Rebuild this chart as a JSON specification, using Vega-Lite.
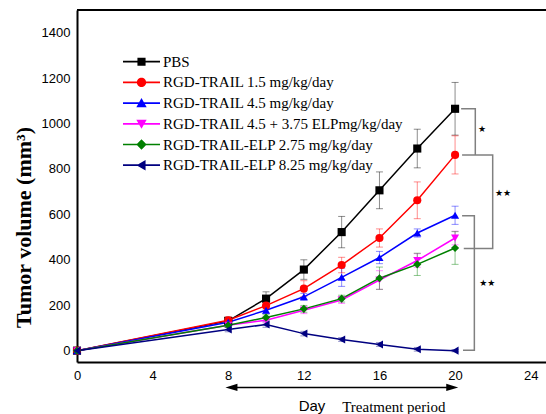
{
  "$schema": "https://vega.github.io/schema/vega-lite/v6.json",
  "width": 469,
  "height": 352,
  "autosize": {"type": "none"},
  "padding": {"left": 77, "top": 10, "right": 0, "bottom": 52},
  "background": "white",
  "config": {"view": {"stroke": null}},
  "datasets": {
    "d": [
      {"series": "PBS", "day": 0, "volume": 0, "lo": 0, "hi": 0},
      {"series": "PBS", "day": 8, "volume": 131, "lo": 116, "hi": 146},
      {"series": "PBS", "day": 10, "volume": 229, "lo": 199, "hi": 259},
      {"series": "PBS", "day": 12, "volume": 357, "lo": 314, "hi": 400},
      {"series": "PBS", "day": 14, "volume": 522, "lo": 453, "hi": 591},
      {"series": "PBS", "day": 16, "volume": 706, "lo": 625, "hi": 787},
      {"series": "PBS", "day": 18, "volume": 890, "lo": 805, "hi": 975},
      {"series": "PBS", "day": 20, "volume": 1065, "lo": 949, "hi": 1181},
      {"series": "RGD-TRAIL 1.5 mg/kg/day", "day": 0, "volume": 0, "lo": 0, "hi": 0},
      {"series": "RGD-TRAIL 1.5 mg/kg/day", "day": 8, "volume": 134, "lo": 119, "hi": 149},
      {"series": "RGD-TRAIL 1.5 mg/kg/day", "day": 10, "volume": 198, "lo": 183, "hi": 213},
      {"series": "RGD-TRAIL 1.5 mg/kg/day", "day": 12, "volume": 273, "lo": 238, "hi": 308},
      {"series": "RGD-TRAIL 1.5 mg/kg/day", "day": 14, "volume": 377, "lo": 343, "hi": 411},
      {"series": "RGD-TRAIL 1.5 mg/kg/day", "day": 16, "volume": 496, "lo": 456, "hi": 536},
      {"series": "RGD-TRAIL 1.5 mg/kg/day", "day": 18, "volume": 662, "lo": 581, "hi": 743},
      {"series": "RGD-TRAIL 1.5 mg/kg/day", "day": 20, "volume": 862, "lo": 778, "hi": 946},
      {"series": "RGD-TRAIL 4.5 mg/kg/day", "day": 0, "volume": 0, "lo": 0, "hi": 0},
      {"series": "RGD-TRAIL 4.5 mg/kg/day", "day": 8, "volume": 125, "lo": 113, "hi": 137},
      {"series": "RGD-TRAIL 4.5 mg/kg/day", "day": 10, "volume": 178, "lo": 163, "hi": 193},
      {"series": "RGD-TRAIL 4.5 mg/kg/day", "day": 12, "volume": 237, "lo": 222, "hi": 252},
      {"series": "RGD-TRAIL 4.5 mg/kg/day", "day": 14, "volume": 323, "lo": 283, "hi": 363},
      {"series": "RGD-TRAIL 4.5 mg/kg/day", "day": 16, "volume": 410, "lo": 383, "hi": 437},
      {"series": "RGD-TRAIL 4.5 mg/kg/day", "day": 18, "volume": 518, "lo": 500, "hi": 536},
      {"series": "RGD-TRAIL 4.5 mg/kg/day", "day": 20, "volume": 596, "lo": 556, "hi": 636},
      {"series": "RGD-TRAIL 4.5 + 3.75 ELPmg/kg/day", "day": 0, "volume": 0, "lo": 0, "hi": 0},
      {"series": "RGD-TRAIL 4.5 + 3.75 ELPmg/kg/day", "day": 8, "volume": 112, "lo": 102, "hi": 122},
      {"series": "RGD-TRAIL 4.5 + 3.75 ELPmg/kg/day", "day": 10, "volume": 134, "lo": 122, "hi": 146},
      {"series": "RGD-TRAIL 4.5 + 3.75 ELPmg/kg/day", "day": 12, "volume": 178, "lo": 163, "hi": 193},
      {"series": "RGD-TRAIL 4.5 + 3.75 ELPmg/kg/day", "day": 14, "volume": 223, "lo": 208, "hi": 238},
      {"series": "RGD-TRAIL 4.5 + 3.75 ELPmg/kg/day", "day": 16, "volume": 311, "lo": 270, "hi": 352},
      {"series": "RGD-TRAIL 4.5 + 3.75 ELPmg/kg/day", "day": 18, "volume": 397, "lo": 367, "hi": 427},
      {"series": "RGD-TRAIL 4.5 + 3.75 ELPmg/kg/day", "day": 20, "volume": 496, "lo": 466, "hi": 526},
      {"series": "RGD-TRAIL-ELP 2.75 mg/kg/day", "day": 0, "volume": 0, "lo": 0, "hi": 0},
      {"series": "RGD-TRAIL-ELP 2.75 mg/kg/day", "day": 8, "volume": 112, "lo": 102, "hi": 122},
      {"series": "RGD-TRAIL-ELP 2.75 mg/kg/day", "day": 10, "volume": 146, "lo": 134, "hi": 158},
      {"series": "RGD-TRAIL-ELP 2.75 mg/kg/day", "day": 12, "volume": 184, "lo": 169, "hi": 199},
      {"series": "RGD-TRAIL-ELP 2.75 mg/kg/day", "day": 14, "volume": 229, "lo": 214, "hi": 244},
      {"series": "RGD-TRAIL-ELP 2.75 mg/kg/day", "day": 16, "volume": 319, "lo": 270, "hi": 368},
      {"series": "RGD-TRAIL-ELP 2.75 mg/kg/day", "day": 18, "volume": 380, "lo": 331, "hi": 429},
      {"series": "RGD-TRAIL-ELP 2.75 mg/kg/day", "day": 20, "volume": 452, "lo": 380, "hi": 524},
      {"series": "RGD-TRAIL-ELP 8.25 mg/kg/day", "day": 0, "volume": 0, "lo": 0, "hi": 0},
      {"series": "RGD-TRAIL-ELP 8.25 mg/kg/day", "day": 8, "volume": 93, "lo": 83, "hi": 103},
      {"series": "RGD-TRAIL-ELP 8.25 mg/kg/day", "day": 10, "volume": 115, "lo": 103, "hi": 127},
      {"series": "RGD-TRAIL-ELP 8.25 mg/kg/day", "day": 12, "volume": 75, "lo": 65, "hi": 85},
      {"series": "RGD-TRAIL-ELP 8.25 mg/kg/day", "day": 14, "volume": 49, "lo": 41, "hi": 57},
      {"series": "RGD-TRAIL-ELP 8.25 mg/kg/day", "day": 16, "volume": 27, "lo": 19, "hi": 35},
      {"series": "RGD-TRAIL-ELP 8.25 mg/kg/day", "day": 18, "volume": 6, "lo": -2, "hi": 14},
      {"series": "RGD-TRAIL-ELP 8.25 mg/kg/day", "day": 20, "volume": 0, "lo": -5, "hi": 5}
    ],
    "br": [
      {"b": 1, "o": 1, "day": 20.32, "volume": 1065},
      {"b": 1, "o": 2, "day": 21.07, "volume": 1065},
      {"b": 1, "o": 3, "day": 21.07, "volume": 862},
      {"b": 2, "o": 1, "day": 20.37, "volume": 862},
      {"b": 2, "o": 2, "day": 21.99, "volume": 862},
      {"b": 2, "o": 3, "day": 21.99, "volume": 450},
      {"b": 2, "o": 4, "day": 20.46, "volume": 450},
      {"b": 3, "o": 1, "day": 20.37, "volume": 594},
      {"b": 3, "o": 2, "day": 21.02, "volume": 594},
      {"b": 3, "o": 3, "day": 21.02, "volume": 2},
      {"b": 3, "o": 4, "day": 20.42, "volume": 2}
    ],
    "stars": [
      {"day": 21.43, "volume": 974, "label": "★"},
      {"day": 22.54, "volume": 693, "label": "★★"},
      {"day": 21.7, "volume": 296, "label": "★★"}
    ]
  },
  "layer": [
    {
      "data": {"name": "d"},
      "transform": [{"filter": "datum.day > 0"}],
      "mark": {"type": "rule", "strokeWidth": 1, "strokeOpacity": 0.45},
      "encoding": {
        "x": {
          "field": "day", "type": "quantitative",
          "scale": {"domain": [0, 24.81], "nice": false, "zero": false},
          "axis": {
            "values": [0, 2, 4, 6, 8, 10, 12, 14, 16, 18, 20, 22, 24],
            "labelExpr": "datum.value % 4 === 0 ? datum.label : ''",
            "tickSize": 0, "labelPadding": 7, "labelFlush": false, "labelOverlap": false,
            "labelFont": "Liberation Sans", "labelFontSize": 13, "labelColor": "black",
            "domainColor": "black", "domainWidth": 2, "tickColor": "black", "tickWidth": 1.5,
            "grid": false,
            "title": "Day", "titleFont": "Liberation Sans", "titleFontSize": 15, "titleFontWeight": "normal",
            "titleColor": "black", "titleY": 48, "titleBaseline": "alphabetic",
            "encode": {"ticks": {"update": {"y2": {"signal": "datum.value % 4 === 0 ? -8 : -5"}}}}
          }
        },
        "y": {
          "field": "lo", "type": "quantitative",
          "scale": {"domain": [-50, 1500], "nice": false, "zero": false},
          "axis": {
            "values": [0, 100, 200, 300, 400, 500, 600, 700, 800, 900, 1000, 1100, 1200, 1300, 1400],
            "format": "d",
            "labelExpr": "datum.value % 200 === 0 ? datum.label : ''",
            "tickSize": 0, "labelPadding": 7, "labelOverlap": false,
            "labelFont": "Liberation Sans", "labelFontSize": 13, "labelColor": "black",
            "domainColor": "black", "domainWidth": 2, "tickColor": "black", "tickWidth": 1.5,
            "grid": false,
            "title": "Tumor volume (mm³)", "titleFont": "Liberation Serif", "titleFontSize": 22,
            "titleFontWeight": "bold", "titleColor": "black", "titleAngle": -90,
            "titleX": -54, "titleY": 217, "titleBaseline": "middle", "titleAlign": "center",
            "encode": {"ticks": {"update": {"x2": {"signal": "datum.value % 200 === 0 ? 5 : 3"}}}}
          }
        },
        "y2": {"field": "hi"},
        "stroke": {
          "field": "series", "type": "nominal",
          "scale": {
            "domain": ["PBS", "RGD-TRAIL 1.5 mg/kg/day", "RGD-TRAIL 4.5 mg/kg/day", "RGD-TRAIL 4.5 + 3.75 ELPmg/kg/day", "RGD-TRAIL-ELP 2.75 mg/kg/day", "RGD-TRAIL-ELP 8.25 mg/kg/day"],
            "range": ["#000000", "#ff0000", "#0000ff", "#ff00ff", "#008000", "#000080"]
          }
        }
      }
    },
    {
      "data": {"name": "d"},
      "transform": [{"filter": "datum.day > 0"}],
      "mark": {"type": "rule", "strokeWidth": 1, "strokeOpacity": 0.45, "xOffset": -3.5, "x2Offset": 3.5},
      "encoding": {
        "x": {"field": "day", "type": "quantitative"},
        "x2": {"field": "day"},
        "y": {"field": "lo", "type": "quantitative"},
        "stroke": {"field": "series", "type": "nominal"}
      }
    },
    {
      "data": {"name": "d"},
      "transform": [{"filter": "datum.day > 0"}],
      "mark": {"type": "rule", "strokeWidth": 1, "strokeOpacity": 0.45, "xOffset": -3.5, "x2Offset": 3.5},
      "encoding": {
        "x": {"field": "day", "type": "quantitative"},
        "x2": {"field": "day"},
        "y": {"field": "hi", "type": "quantitative"},
        "stroke": {"field": "series", "type": "nominal"}
      }
    },
    {
      "data": {"name": "d"},
      "mark": {"type": "line", "strokeWidth": 1.5},
      "encoding": {
        "x": {"field": "day", "type": "quantitative"},
        "y": {"field": "volume", "type": "quantitative"},
        "stroke": {"field": "series", "type": "nominal"}
      }
    },
    {
      "data": {"name": "d"},
      "transform": [{"filter": "datum.series === 'PBS'"}],
      "mark": {"type": "point", "shape": "square", "filled": true, "opacity": 1, "size": 66, "strokeWidth": 0},
      "encoding": {
        "x": {"field": "day", "type": "quantitative"},
        "y": {"field": "volume", "type": "quantitative"},
        "color": {"field": "series", "type": "nominal"}
      }
    },
    {
      "data": {"name": "d"},
      "transform": [{"filter": "datum.series === 'RGD-TRAIL 1.5 mg/kg/day'"}],
      "mark": {"type": "point", "shape": "circle", "filled": true, "opacity": 1, "size": 66, "strokeWidth": 0},
      "encoding": {
        "x": {"field": "day", "type": "quantitative"},
        "y": {"field": "volume", "type": "quantitative"},
        "color": {"field": "series", "type": "nominal"}
      }
    },
    {
      "data": {"name": "d"},
      "transform": [{"filter": "datum.series === 'RGD-TRAIL 4.5 mg/kg/day'"}],
      "mark": {"type": "point", "shape": "triangle-up", "filled": true, "opacity": 1, "size": 66, "strokeWidth": 0},
      "encoding": {
        "x": {"field": "day", "type": "quantitative"},
        "y": {"field": "volume", "type": "quantitative"},
        "color": {"field": "series", "type": "nominal"}
      }
    },
    {
      "data": {"name": "d"},
      "transform": [{"filter": "datum.series === 'RGD-TRAIL 4.5 + 3.75 ELPmg/kg/day'"}],
      "mark": {"type": "point", "shape": "triangle-down", "filled": true, "opacity": 1, "size": 66, "strokeWidth": 0},
      "encoding": {
        "x": {"field": "day", "type": "quantitative"},
        "y": {"field": "volume", "type": "quantitative"},
        "color": {"field": "series", "type": "nominal"}
      }
    },
    {
      "data": {"name": "d"},
      "transform": [{"filter": "datum.series === 'RGD-TRAIL-ELP 2.75 mg/kg/day'"}],
      "mark": {"type": "point", "shape": "diamond", "filled": true, "opacity": 1, "size": 66, "strokeWidth": 0},
      "encoding": {
        "x": {"field": "day", "type": "quantitative"},
        "y": {"field": "volume", "type": "quantitative"},
        "color": {"field": "series", "type": "nominal"}
      }
    },
    {
      "data": {"name": "d"},
      "transform": [{"filter": "datum.series === 'RGD-TRAIL-ELP 8.25 mg/kg/day'"}],
      "mark": {"type": "point", "shape": "triangle-left", "filled": true, "opacity": 1, "size": 66, "strokeWidth": 0},
      "encoding": {
        "x": {"field": "day", "type": "quantitative"},
        "y": {"field": "volume", "type": "quantitative"},
        "color": {"field": "series", "type": "nominal"}
      }
    },
    {
      "data": {"name": "d"},
      "transform": [{"filter": "datum.day < 0"}],
      "mark": {"type": "point", "filled": true, "opacity": 1, "strokeWidth": 0},
      "encoding": {
        "x": {"field": "day", "type": "quantitative"},
        "y": {"field": "volume", "type": "quantitative"},
        "shape": {
          "field": "series", "type": "nominal",
          "scale": {
            "domain": ["PBS", "RGD-TRAIL 1.5 mg/kg/day", "RGD-TRAIL 4.5 mg/kg/day", "RGD-TRAIL 4.5 + 3.75 ELPmg/kg/day", "RGD-TRAIL-ELP 2.75 mg/kg/day", "RGD-TRAIL-ELP 8.25 mg/kg/day"],
            "range": [
              "M-1,-0.045H1V0.045H-1Z M-0.22,-0.22H0.22V0.22H-0.22Z",
              "M-1,-0.045H1V0.045H-1Z M-0.25,0A0.25,0.25 0 1,1 0.25,0A0.25,0.25 0 1,1 -0.25,0Z",
              "M-1,-0.045H1V0.045H-1Z M0,-0.27L0.28,0.22L-0.28,0.22Z",
              "M-1,-0.045H1V0.045H-1Z M-0.28,-0.22L0.28,-0.22L0,0.27Z",
              "M-1,-0.045H1V0.045H-1Z M0,-0.28L0.28,0L0,0.28L-0.28,0Z",
              "M-1,-0.045H1V0.045H-1Z M-0.27,0L0.22,-0.28L0.22,0.28Z"
            ]
          }
        },
        "color": {
          "field": "series", "type": "nominal",
          "scale": {
            "domain": ["PBS", "RGD-TRAIL 1.5 mg/kg/day", "RGD-TRAIL 4.5 mg/kg/day", "RGD-TRAIL 4.5 + 3.75 ELPmg/kg/day", "RGD-TRAIL-ELP 2.75 mg/kg/day", "RGD-TRAIL-ELP 8.25 mg/kg/day"],
            "range": ["#000000", "#ff0000", "#0000ff", "#ff00ff", "#008000", "#000080"]
          },
          "legend": {
            "orient": "none", "legendX": 46, "legendY": 44.7, "title": null, "padding": 0,
            "symbolSize": 1369, "symbolStrokeWidth": 0, "symbolOpacity": 1,
            "clipHeight": 14, "rowPadding": 5.7, "labelOffset": 3,
            "labelFont": "Liberation Serif", "labelFontSize": 15, "labelColor": "black", "labelLimit": 400
          }
        }
      }
    },
    {
      "data": {"name": "br"},
      "mark": {"type": "line", "color": "#808080", "strokeWidth": 1.5},
      "encoding": {
        "x": {"field": "day", "type": "quantitative"},
        "y": {"field": "volume", "type": "quantitative"},
        "detail": {"field": "b", "type": "nominal"},
        "order": {"field": "o", "type": "quantitative"}
      }
    },
    {
      "data": {"name": "stars"},
      "mark": {"type": "text", "font": "DejaVu Sans", "fontSize": 9, "color": "black", "align": "center", "baseline": "middle"},
      "encoding": {
        "x": {"field": "day", "type": "quantitative"},
        "y": {"field": "volume", "type": "quantitative"},
        "text": {"field": "label"}
      }
    },
    {
      "data": {"values": [{"day": 8.3, "day2": 19.7, "volume": -162}]},
      "mark": {"type": "rule", "color": "black", "strokeWidth": 1.5, "clip": false},
      "encoding": {
        "x": {"field": "day", "type": "quantitative"},
        "x2": {"field": "day2"},
        "y": {"field": "volume", "type": "quantitative"}
      }
    },
    {
      "data": {"values": [{"day": 8.17, "volume": -162}]},
      "mark": {"type": "point", "shape": "M-1,0L1,-0.6L1,0.6Z", "size": 144, "filled": true, "opacity": 1, "color": "black", "strokeWidth": 0, "clip": false},
      "encoding": {
        "x": {"field": "day", "type": "quantitative"},
        "y": {"field": "volume", "type": "quantitative"}
      }
    },
    {
      "data": {"values": [{"day": 19.85, "volume": -162}]},
      "mark": {"type": "point", "shape": "M1,0L-1,-0.6L-1,0.6Z", "size": 144, "filled": true, "opacity": 1, "color": "black", "strokeWidth": 0, "clip": false},
      "encoding": {
        "x": {"field": "day", "type": "quantitative"},
        "y": {"field": "volume", "type": "quantitative"}
      }
    },
    {
      "data": {"values": [{"day": 16.76, "volume": -269, "label": "Treatment period"}]},
      "mark": {"type": "text", "font": "Liberation Serif", "fontSize": 15, "color": "black", "align": "center", "baseline": "alphabetic"},
      "encoding": {
        "x": {"field": "day", "type": "quantitative"},
        "y": {"field": "volume", "type": "quantitative"},
        "text": {"field": "label"}
      }
    },
    {
      "data": {"values": [{"volume": 1500}]},
      "mark": {"type": "rule", "color": "black", "strokeWidth": 2},
      "encoding": {
        "y": {"field": "volume", "type": "quantitative"}
      }
    }
  ]
}
